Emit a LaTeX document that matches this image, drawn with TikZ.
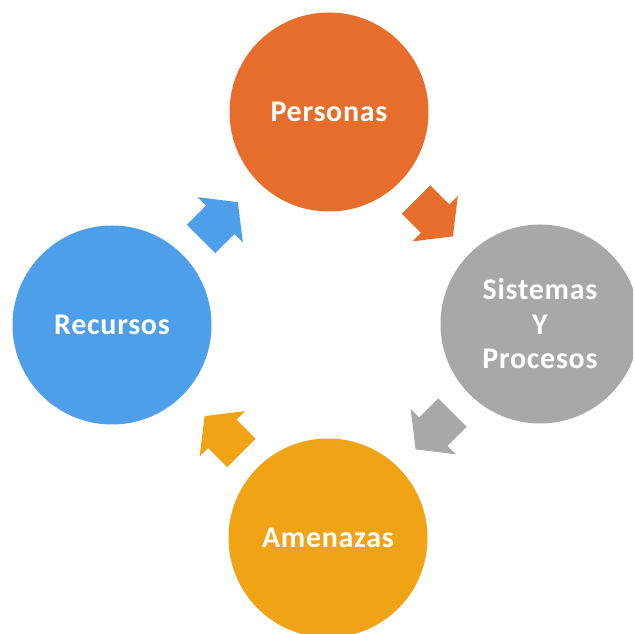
\documentclass[tikz,border=0pt]{standalone}
\usepackage{fontspec}
\setmainfont{Carlito}
\newfontfamily\circfont[LetterSpace=2.4]{Carlito}
\usetikzlibrary{calc}
\definecolor{orangeC}{RGB}{230,109,43}
\definecolor{blueC}{RGB}{76,159,232}
\definecolor{grayC}{RGB}{168,168,168}
\definecolor{yellowC}{RGB}{240,163,20}
\tikzset{
  circ/.style={circle, minimum size=199pt, inner sep=0pt, text=white,
    font=\circfont\bfseries\fontsize{30}{34.5}\selectfont, align=center},
  arrowshape/.pic={\fill[pic actions] (-26,20) -- (1,20) -- (1,32) -- (26,0) -- (1,-32) -- (1,-20) -- (-26,-20) -- cycle;}
}
\begin{document}
\begin{tikzpicture}[x=1pt,y=1pt]
\useasboundingbox (0,0) rectangle (633,634);
\fill[white] (0,0) rectangle (633,634);
\clip (0,0) rectangle (633,634);
\node[circ, fill=orangeC] (P) at (329,522) {Personas};
\node[circ, fill=grayC] (S) at (540,310) {Sistemas\\Y\\Procesos};
\node[circ, fill=blueC] (R) at (112,309) {Recursos};
\node[circ, fill=yellowC] (A) at (328,96) {Amenazas};
\pic[fill=orangeC, rotate=-45] at ($(P)!0.5!(S)$) {arrowshape};
\pic[fill=grayC, rotate=-135] at ($(S)!0.5!(A)$) {arrowshape};
\pic[fill=yellowC, rotate=135] at ($(A)!0.5!(R)+(3,-3)$) {arrowshape};
\pic[fill=blueC, rotate=45] at ($(R)!0.5!(P)+(-1,-2)$) {arrowshape};
\end{tikzpicture}
\end{document}
